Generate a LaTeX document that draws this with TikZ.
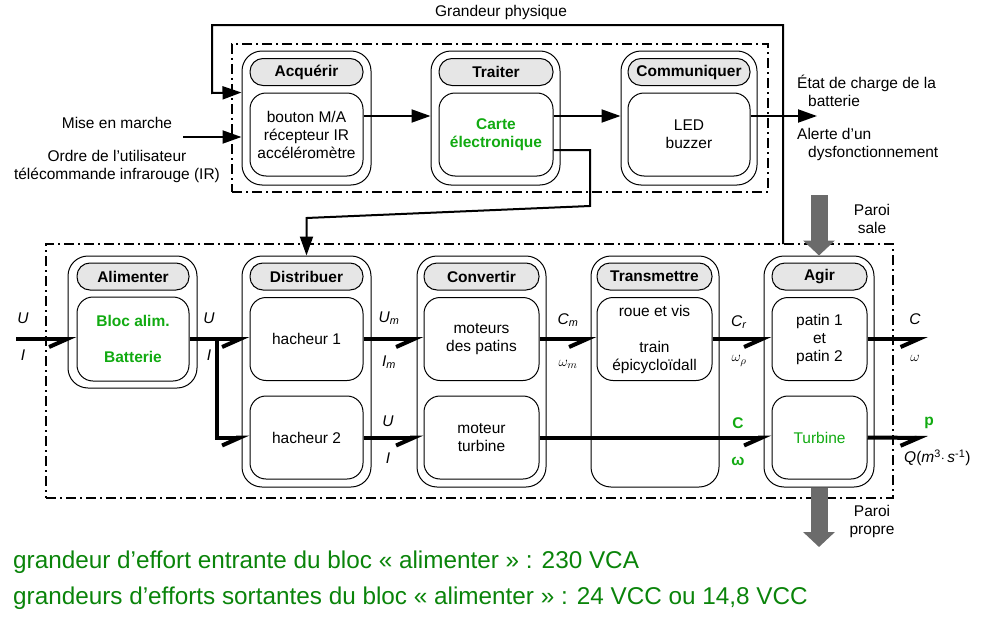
\documentclass[tikz,border=0pt]{standalone}
\usepackage{fontspec}
\setmainfont{Liberation Sans}
\usetikzlibrary{arrows.meta}
\definecolor{head-grey}{HTML}{E6E6E6}
\definecolor{box-green}{HTML}{11AA11}
\definecolor{note-green}{HTML}{0A840A}
\definecolor{wall-grey}{HTML}{6B6B6B}
\newcommand{\vsub}[2]{\textit{#1}\textsubscript{\textit{#2}}}

\begin{document}
\begin{tikzpicture}[x=1pt, y=-1pt,
    every node/.style={font=\fontsize{15.5}{18}\selectfont, inner sep=0pt},
    zone/.style={draw, line width=2pt, dash pattern=on 10pt off 4pt on 2pt off 4pt},
    outer/.style={draw, line width=1pt, rounded corners=20pt, minimum height=#1},
    head/.style={draw, line width=1pt, fill=head-grey, rounded corners=13pt,
                 minimum height=27pt, font=\fontsize{15.5}{18}\selectfont\bfseries},
    inbox/.style={draw, line width=1pt, rounded corners=16pt, minimum height=83pt, align=center},
    ctl/.style={line width=2pt, -{Triangle[length=19pt,width=13pt]}},
    bond/.style={line width=4pt, -{Straight Barb[harpoon,swap,length=18pt,width=16pt]}},
    wall/.style={line width=17pt, wall-grey, -{Triangle[length=15pt,width=31pt]}},
    greentxt/.style={text=box-green},
    boldtxt/.style={font=\fontsize{15.5}{18}\selectfont\bfseries},
    note/.style={anchor=west, text=note-green, font=\fontsize{24.3}{28}\selectfont}]
  \useasboundingbox (0,0) rectangle (986,621);

  % chaine d'information
  \node[zone, minimum width=536pt, minimum height=148pt] (infozone) at (500,118) {};
  \node[outer=134pt, minimum width=129pt] (acq) at (306.5,118) {};
  \node[head, minimum width=113pt] (acqh) at (306.5,72) {Acquérir};
  \node[inbox, minimum width=113pt] (acqin) at (306.5,134.5) {bouton M/A\\récepteur IR\\accéléromètre};
  \node[outer=134pt, minimum width=129pt] (trai) at (495.5,118) {};
  \node[head, minimum width=114pt] (traih) at (496,72) {Traiter};
  \node[inbox, minimum width=114pt, greentxt, boldtxt] (traiin) at (496,134.5) {Carte\\électronique};
  \node[outer=134pt, minimum width=136pt] (comm) at (689,118) {};
  \node[head, minimum width=122pt] (commh) at (689,72) {Communiquer};
  \node[inbox, minimum width=122pt] (commin) at (689,134.5) {LED\\buzzer};

  % chaine d'energie
  \node[zone, minimum width=847pt, minimum height=254pt] (powerzone) at (469.5,371) {};
  \node[outer=132pt, minimum width=129pt] (alim) at (132.5,322) {};
  \node[head, minimum width=112pt] (alimh) at (133,276.5) {Alimenter};
  \node[inbox, minimum width=112pt, minimum height=84pt, greentxt, boldtxt] (alimin) at (133,339) {Bloc alim.\\[18pt]Batterie};
  \node[outer=231pt, minimum width=129pt] (dist) at (306.5,371.5) {};
  \node[head, minimum width=113pt] (disth) at (306.5,276.5) {Distribuer};
  \node[inbox, minimum width=113pt] (distin1) at (306.5,339) {hacheur 1};
  \node[inbox, minimum width=113pt] (distin2) at (306.5,437.5) {hacheur 2};
  \node[outer=231pt, minimum width=129pt] (conv) at (481.5,371.5) {};
  \node[head, minimum width=115pt] (convh) at (481.5,276.5) {Convertir};
  \node[inbox, minimum width=115pt] (convin1) at (481.5,339) {moteurs\\des patins};
  \node[inbox, minimum width=115pt] (convin2) at (481.5,437.5) {moteur\\turbine};
  \node[outer=231pt, minimum width=128pt] (trans) at (655,371.5) {};
  \node[head, minimum width=115pt] (transh) at (654.5,276.5) {Transmettre};
  \node[inbox, minimum width=115pt] (transin) at (654.5,339) {roue et vis\\[18pt]train\\épicycloïdall};
  \node[outer=231pt, minimum width=110pt] (agir) at (819,371.5) {};
  \node[head, minimum width=95pt] (agirh) at (819.5,276.5) {Agir};
  \node[inbox, minimum width=95pt] (agirin1) at (819.5,339) {patin 1\\et\\patin 2};
  \node[inbox, minimum width=95pt, greentxt] (agirin2) at (819.5,437.5) {Turbine};

  % liens d'information
  \coordinate (gpfoot) at (783,244);
  \coordinate (startmem) at (183,137);
  \coordinate (infoout) at (817,116);
  \coordinate (turnA) at (590,206);
  \coordinate (turnB) at (306.5,218);
  \draw[ctl] (gpfoot) -- (783,25) -| (212,93) -- (acqin.north -| acq.west);
  \draw[ctl] (startmem) -- (startmem -| acq.west);
  \draw[ctl] ([yshift=18.5pt]acqin.east) -- ([yshift=18.5pt]acqin.east -| trai.west);
  \draw[ctl] ([yshift=18.5pt]traiin.east) -- ([yshift=18.5pt]traiin.east -| comm.west);
  \draw[ctl] ([yshift=18.5pt]commin.east) -- (infoout);
  \draw[ctl] ([yshift=-15.5pt]traiin.east) -| (turnA) -- (turnB) -- (dist.north);

  \node (gp) at (501,12) {Grandeur physique};
  \node (mem) at (117,123) {Mise en marche};
  \node[align=center] (ordre) at (117,166.5) {Ordre de l’utilisateur\\télécommande infrarouge (IR)};
  \node[anchor=west, align=left] (etat) at (797,90.5) {État de charge de la\\\hspace*{11pt}batterie};
  \node[anchor=west, align=left] (alerte) at (797,144.5) {Alerte d’un\\\hspace*{11pt}dysfonctionnement};

  % liens de puissance
  \coordinate (uin) at (16,339);
  \coordinate (jct) at (217,339);
  \coordinate (cout) at (928,339);
  \coordinate (pout) at (928,438);
  \draw[bond] (uin) -- (alimin.west);
  \draw[bond] (alimin.east) -- (distin1.west);
  \draw[bond] (jct) |- (distin2.west);
  \draw[bond] (distin1.east) -- (convin1.west);
  \draw[bond] (distin2.east) -- (convin2.west);
  \draw[bond] (convin1.east) -- (transin.west);
  \draw[bond] (convin2.east) -- (agirin2.west);
  \draw[bond] (transin.east) -- (agirin1.west);
  \draw[bond] (agirin1.east) -- (cout);
  \draw[bond] (agirin2.east) -- (pout);

  \node (u0) at (23,318) {\textit{U}};
  \node (i0) at (23,355) {\textit{I}};
  \node (u1) at (209,318) {\textit{U}};
  \node (i1) at (209,355) {\textit{I}};
  \node (um) at (389,318) {\vsub{U}{m}};
  \node (im) at (389,362) {\vsub{I}{m}};
  \node (u2) at (388,421) {\textit{U}};
  \node (i2) at (388,458) {\textit{I}};
  \node (cm) at (568,320) {\vsub{C}{m}};
  \node (wm) at (568,364) {$\omega_m$};
  \node (cr) at (739,322) {\vsub{C}{r}};
  \node (wr) at (739,361) {$\omega_\rho$};
  \node[greentxt, boldtxt] (ct) at (738,423) {C};
  \node[greentxt, boldtxt] (wt) at (738,461) {ω};
  \node (cs) at (915,319) {\textit{C}};
  \node (ws) at (915,358) {$\omega$};
  \node[greentxt, boldtxt] (ps) at (929,423) {p};
  \node[anchor=west] (qs) at (904,458) {\textit{Q}(\textit{m}\textsuperscript{3}$\cdot$\,\textit{s}\textsuperscript{-1})};

  % parois
  \coordinate (dirty) at (819,195);
  \coordinate (clean) at (819,547);
  \draw[wall] (dirty) -- (agir.north);
  \draw[wall] (agir.south) -- (clean);
  \node[align=center] (psale) at (872,218.5) {Paroi\\sale};
  \node[align=center] (ppropre) at (872,521) {Paroi\\propre};

  % grandeurs d'effort
  \node[note] (note1) at (13,562) {grandeur d’effort entrante du bloc «~alimenter~» : 230 VCA};
  \node[note] (note2) at (13,598) {grandeurs d’efforts sortantes du bloc «~alimenter~» : 24 VCC ou 14,8 VCC};
\end{tikzpicture}
\end{document}
